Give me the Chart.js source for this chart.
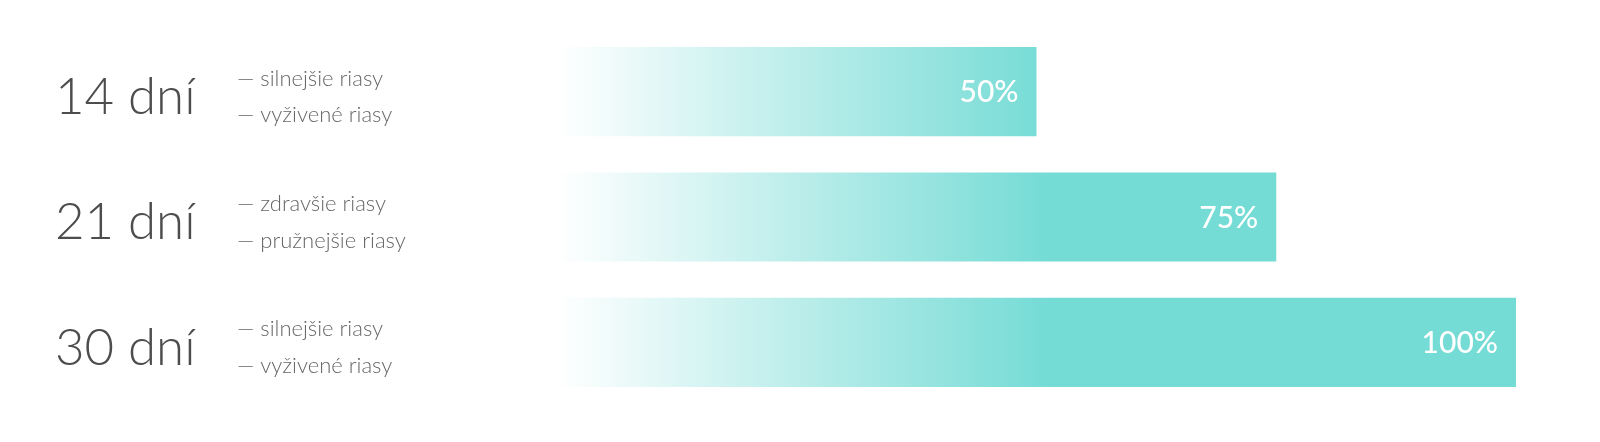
<!DOCTYPE html>
<html>
<head>
<meta charset="utf-8">
<script src="https://cdn.jsdelivr.net/npm/chart.js@4"></script>
<style>
  html, body { margin: 0; padding: 0; background: #fff; }
  #wrap { width: 1600px; height: 442px; }
</style>
</head>
<body>
<div id="wrap"><canvas id="chart"></canvas></div>
<script>
const periods = ['14 dní', '21 dní', '30 dní'];
const effects = [
    ['— silnejšie riasy', '— vyživené riasy'],
    ['— zdravšie riasy', '— pružnejšie riasy'],
    ['— silnejšie riasy', '— vyživené riasy']
];
const percents = [50, 75, 100];

const teal = '#74dbd5';

// fade from white to teal across the left half of the plot
function barFill(context) {
    const area = context.chart.chartArea;
    if (!area) return teal;
    const g = context.chart.ctx.createLinearGradient(area.left, 0, area.left + area.width * 0.515, 0);
    g.addColorStop(0, 'rgba(255,255,255,1)');
    g.addColorStop(1, teal);
    return g;
}

const sideText = {
    id: 'sideText',
    afterDatasetsDraw(chart) {
        const ctx = chart.ctx;
        const y = chart.scales.y;
        const meta = chart.getDatasetMeta(0);
        ctx.save();
        // sub labels next to the period
        ctx.font = '300 22px Lato';
        ctx.fillStyle = '#676767';
        ctx.textAlign = 'left';
        ctx.textBaseline = 'middle';
        effects.forEach((lines, i) => {
            const cy = y.getPixelForValue(i);
            ctx.fillText(lines[0], 237, cy - 13);
            ctx.fillText(lines[1], 237, cy + 23.5);
        });
        // value inside the bar end
        ctx.font = '500 30px Lato';
        ctx.fillStyle = '#ffffff';
        ctx.textAlign = 'right';
        meta.data.forEach((bar, i) => {
            ctx.fillText(percents[i] + '%', bar.x - 18, bar.y + 1);
        });
        ctx.restore();
    }
};

new Chart(document.getElementById('chart').getContext('2d'), {
    type: 'bar',
    data: {
        labels: periods,
        datasets: [{
            data: percents,
            backgroundColor: barFill,
            borderWidth: 0,
            barPercentage: 0.712,
            categoryPercentage: 1
        }]
    },
    options: {
        indexAxis: 'y',
        responsive: true,
        maintainAspectRatio: false,
        animation: false,
        layout: { padding: { left: 55, right: 84, top: 29, bottom: 37 } },
        plugins: {
            legend: { display: false },
            tooltip: { enabled: false }
        },
        scales: {
            x: { min: 0, max: 100, display: false },
            y: {
                grid: { display: false },
                border: { display: false },
                afterFit: scale => {
                    scale.width = 502;
                    scale.paddingTop = 0;
                    scale.paddingBottom = 0;
                },
                ticks: {
                    crossAlign: 'far',
                    labelOffset: 6,
                    color: '#4d4d4d',
                    font: { family: 'Lato', size: 51, weight: '300' }
                }
            }
        }
    },
    plugins: [sideText]
});
</script>
</body>
</html>
